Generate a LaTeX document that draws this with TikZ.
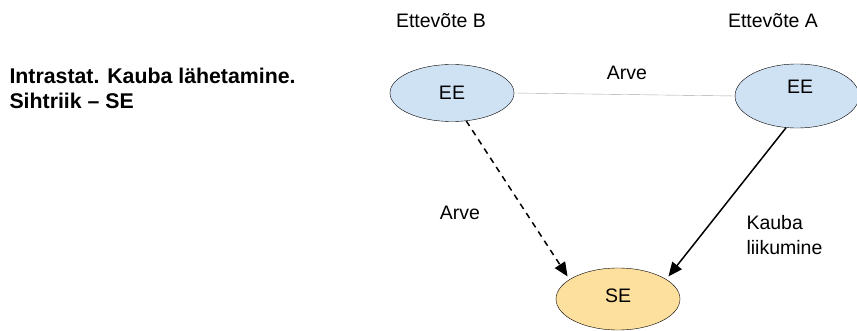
\documentclass[tikz,border=0pt]{standalone}
\usepackage{fontspec}
\setmainfont{Liberation Sans}
\usetikzlibrary{shapes.geometric,arrows.meta}
\definecolor{eeblue}{HTML}{CFE2F3}
\definecolor{seyellow}{HTML}{FDDF9E}
\begin{document}
\begin{tikzpicture}[x=1pt,y=-1pt, font=\fontsize{19.5}{25}\selectfont,
  land/.style={ellipse,draw=black,thin,inner sep=0pt},
  tip/.style={-{Triangle[length=14pt,width=12pt]}}]
            \useasboundingbox (0,0) rectangle (857,331);
            \node[align=left,anchor=west,font=\fontsize{21.3}{25}\selectfont\bfseries] (title) at (6,88) {Intrastat. Kauba lähetamine.\\Sihtriik -- SE};
            \node (firmab) at (441,21) {Ettevõte B};
            \node (firmaa) at (773,21) {Ettevõte A};
            \begin{scope}[every node/.style={land,minimum width=124pt,minimum height=57pt}]
            \node[fill=eeblue] (b) at (452,93) {EE};
            \node[fill=eeblue,minimum height=64pt] (a) at (797,96) {};
            \node[fill=seyellow,minimum height=62pt] (se) at (618,299) {};
            \end{scope}
            \node at (800,87) {EE};
            \node at (618,296) {SE};
            \node (arve1) at (627,73) {Arve};
            \node (arve2) at (460,213) {Arve};
            \node[align=left,anchor=west] (kaup) at (743,235) {Kauba\\liikumine};
            \begin{scope}[line width=1.5pt]
            \draw[gray!70,thin] (b.east) -- (a.west);
            \draw[tip,dashed,dash pattern=on 6pt off 5pt] (b.-63) -- ([shift={(-2,-3)}]se.158);
            \draw[tip] (a.-109) -- ([shift={(2,-3)}]se.22);
            \end{scope}
            \end{tikzpicture}
\end{document}
